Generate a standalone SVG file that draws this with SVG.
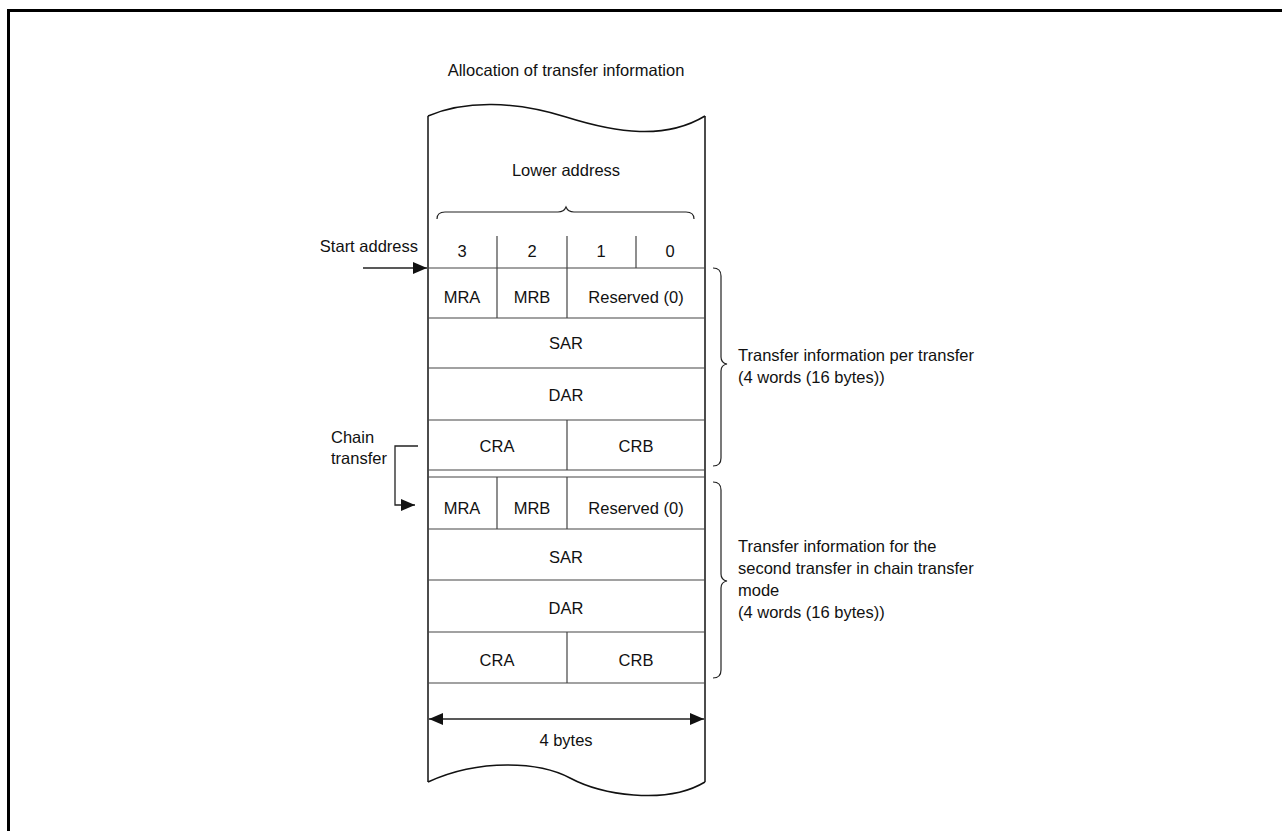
<svg xmlns="http://www.w3.org/2000/svg" width="1282" height="831" viewBox="0 0 1282 831">
<style>
text{font-family:"Liberation Sans",Arial,sans-serif;font-size:16.5px;fill:#111}
.c{text-anchor:middle}
.r{text-anchor:end}
.out{fill:none;stroke:#111;stroke-width:1.5}
.in{fill:none;stroke:#444;stroke-width:1.2}
.br{fill:none;stroke:#222;stroke-width:1.2}
.ar{fill:none;stroke:#222;stroke-width:1.3}
</style>
<defs>
<marker id="ah" viewBox="0 0 14 12" refX="14" refY="6" markerWidth="14" markerHeight="12" markerUnits="userSpaceOnUse" orient="auto-start-reverse">
<path d="M0,0 L14,6 L0,12 Z" fill="#111"/>
</marker>
</defs>
<rect width="1282" height="831" fill="#fff"/>
<path d="M8.5,831 L8.5,10.5 L1282,10.5" fill="none" stroke="#000" stroke-width="3"/>
<text class="c" x="566" y="76">Allocation of transfer information</text>

<g id="memory">
<path class="out" d="M428,116 C465,100 515,101 566,117 S665,140 705,116"/>
<path class="out" d="M428,782 C480,758 540,762 570,778 S665,806 705,782"/>
<line class="out" x1="428" y1="116" x2="428" y2="782"/>
<line class="out" x1="705" y1="116" x2="705" y2="782"/>
</g>

<g id="header">
<text class="c" x="566" y="176">Lower address</text>
<path class="br" d="M437,219 Q437,212 445,212 L558,212 Q564,212 566,207 Q568,212 574,212 L686,212 Q694,212 694,219"/>
<line class="in" x1="497" y1="236" x2="497" y2="268"/>
<line class="in" x1="567" y1="236" x2="567" y2="268"/>
<line class="in" x1="636" y1="236" x2="636" y2="268"/>
<text class="c" x="462" y="257">3</text>
<text class="c" x="532" y="257">2</text>
<text class="c" x="601" y="257">1</text>
<text class="c" x="670" y="257">0</text>
</g>

<g id="block1">
<line class="in" x1="428" y1="268" x2="705" y2="268"/>
<line class="in" x1="428" y1="318" x2="705" y2="318"/>
<line class="in" x1="428" y1="368" x2="705" y2="368"/>
<line class="in" x1="428" y1="420" x2="705" y2="420"/>
<line class="in" x1="428" y1="470" x2="705" y2="470"/>
<line class="in" x1="497" y1="268" x2="497" y2="318"/>
<line class="in" x1="567" y1="268" x2="567" y2="318"/>
<line class="in" x1="567" y1="420" x2="567" y2="470"/>
<text class="c" x="462" y="303">MRA</text>
<text class="c" x="532" y="303">MRB</text>
<text class="c" x="636" y="303">Reserved (0)</text>
<text class="c" x="566" y="349">SAR</text>
<text class="c" x="566" y="401">DAR</text>
<text class="c" x="497" y="452">CRA</text>
<text class="c" x="636" y="452">CRB</text>
</g>

<g id="block2">
<line class="in" x1="428" y1="477" x2="705" y2="477"/>
<line class="in" x1="428" y1="529" x2="705" y2="529"/>
<line class="in" x1="428" y1="580" x2="705" y2="580"/>
<line class="in" x1="428" y1="632" x2="705" y2="632"/>
<line class="in" x1="428" y1="683" x2="705" y2="683"/>
<line class="in" x1="497" y1="477" x2="497" y2="529"/>
<line class="in" x1="567" y1="477" x2="567" y2="529"/>
<line class="in" x1="567" y1="632" x2="567" y2="683"/>
<text class="c" x="462" y="514">MRA</text>
<text class="c" x="532" y="514">MRB</text>
<text class="c" x="636" y="514">Reserved (0)</text>
<text class="c" x="566" y="563">SAR</text>
<text class="c" x="566" y="614">DAR</text>
<text class="c" x="497" y="666">CRA</text>
<text class="c" x="636" y="666">CRB</text>
</g>

<g id="start-address">
<text class="r" x="418" y="252">Start address</text>
</g>

<g id="chain-transfer">
<text x="331" y="443">Chain</text>
<text x="331" y="464">transfer</text>
</g>

<g id="brace1">
<path class="br" d="M713,268 Q721,268 721,276 L721,357 Q721,363 727,364 Q721,365 721,371 L721,458 Q721,466 713,466"/>
<text x="738" y="361">Transfer information per transfer</text>
<text x="738" y="383">(4 words (16 bytes))</text>
</g>

<g id="brace2">
<path class="br" d="M713,482 Q721,482 721,490 L721,574 Q721,580 727,581 Q721,582 721,588 L721,670 Q721,678 713,678"/>
<text x="738" y="552">Transfer information for the</text>
<text x="738" y="574">second transfer in chain transfer</text>
<text x="738" y="596">mode</text>
<text x="738" y="618">(4 words (16 bytes))</text>
</g>

<g id="width">
<text class="c" x="566" y="746">4 bytes</text>
</g>

<g id="connectors">
<line class="ar" x1="363" y1="268" x2="427" y2="268" marker-end="url(#ah)"/>
<path class="ar" d="M418,446 L395,446 L395,505 L415,505" marker-end="url(#ah)"/>
<line class="ar" x1="429" y1="719" x2="704" y2="719" marker-start="url(#ah)" marker-end="url(#ah)"/>
</g>
</svg>
